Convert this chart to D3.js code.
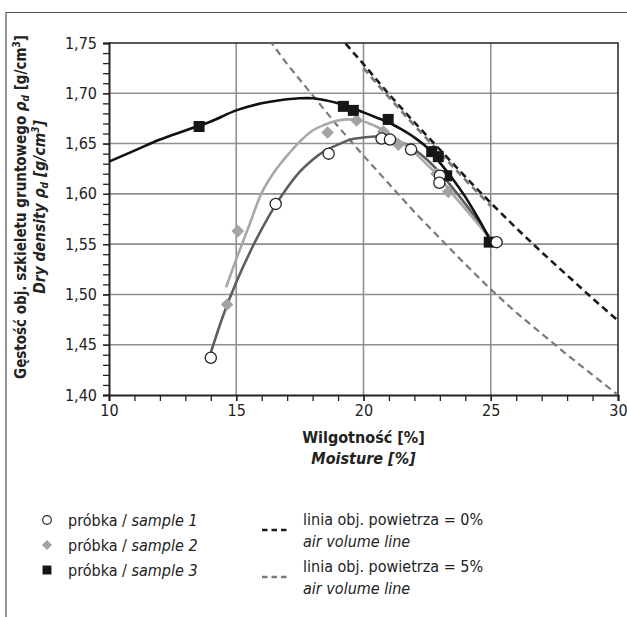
<!DOCTYPE html>
<html><head><meta charset="utf-8">
<script src="https://cdn.jsdelivr.net/npm/d3@7"></script>
<style>
body{margin:0;background:#fff;}
text{font-family:"DejaVu Sans Condensed","Liberation Sans",sans-serif;}
</style></head>
<body><svg id="c" width="627" height="617"></svg>
<script>
// ---- data ----
const xTicks = [10, 15, 20, 25, 30];
const xTickLabels = ["10", "15", "20", "25", "30"];
const yTicks = [1.40, 1.45, 1.50, 1.55, 1.60, 1.65, 1.70, 1.75];
const yTickLabels = ["1,40", "1,45", "1,50", "1,55", "1,60", "1,65", "1,70", "1,75"];

const sample1Points = [[14.0,1.437],[16.55,1.590],[18.63,1.640],[20.71,1.655],[21.04,1.654],[21.87,1.644],[23.0,1.618],[22.98,1.611],[25.23,1.552]];
const sample2Points = [[14.64,1.490],[15.06,1.563],[18.59,1.661],[19.73,1.673],[20.78,1.662],[21.37,1.649],[22.87,1.620],[23.33,1.602],[25.0,1.553]];
const sample3Points = [[13.54,1.667],[19.21,1.687],[19.6,1.683],[20.97,1.674],[22.68,1.642],[22.94,1.637],[23.27,1.618],[24.94,1.552]];

const sample1Curve = [[14.0,1.442],[14.5,1.480],[15,1.512],[15.5,1.540],[16,1.565],[16.5,1.587],[17,1.606],[17.5,1.622],[18,1.634],[18.5,1.643],[19,1.649],[19.5,1.654],[20,1.656],[20.5,1.657],[21,1.655],[21.5,1.651],[22,1.644],[22.5,1.634],[23,1.621],[23.5,1.606],[24,1.590],[24.5,1.573],[25,1.556],[25.25,1.552]];
const sample2Curve = [[14.6,1.507],[15,1.535],[15.5,1.568],[16,1.601],[16.5,1.622],[17,1.638],[17.5,1.652],[18,1.663],[18.5,1.669],[19,1.673],[19.5,1.674],[20,1.672],[20.5,1.667],[21,1.660],[21.5,1.651],[22,1.641],[22.5,1.629],[23,1.616],[23.5,1.600],[24,1.585],[24.5,1.570],[25,1.555]];
const sample3Curve = [[10,1.632],[11,1.643],[12,1.654],[13,1.663],[14,1.672],[15,1.683],[16,1.690],[17,1.694],[17.5,1.695],[18,1.695],[18.5,1.693],[19,1.690],[19.5,1.686],[20,1.681],[20.5,1.676],[21,1.671],[21.5,1.664],[22,1.656],[22.5,1.646],[23,1.631],[23.5,1.615],[24,1.597],[24.5,1.576],[25,1.553]];

const air0Line = [[19.0,1.758],[20,1.729],[21,1.699],[22,1.671],[23,1.644],[24,1.617],[25,1.591],[26,1.566],[27,1.542],[28,1.519],[29,1.496],[30,1.474]];
const air0LineB = [[20,1.725],[21,1.696],[22,1.668],[23,1.641],[24,1.614],[25,1.588]];
const air5Line = [[16.3,1.753],[17,1.729],[18,1.698],[19,1.667],[20,1.638],[21,1.610],[22,1.582],[23,1.556],[24,1.530],[25,1.505],[26,1.482],[27,1.461],[28,1.440],[29,1.420],[30,1.400]];

const legendLeft = [
  {pl:"próbka / ", en:"sample 1", shape:"circle"},
  {pl:"próbka / ", en:"sample 2", shape:"diamond"},
  {pl:"próbka / ", en:"sample 3", shape:"square"}
];
const legendRight = [
  {pl:"linia obj. powietrza = 0%", en:"air volume line", color:"#1a1a1a"},
  {pl:"linia obj. powietrza = 5%", en:"air volume line", color:"#7a7a7a"}
];

// ---- drawing ----
const svg = d3.select("#c");
const L=109, R=618, T=43, B=395;
const x = d3.scaleLinear().domain([10,30]).range([L,R]);
const y = d3.scaleLinear().domain([1.40,1.75]).range([B,T]);

// frame
svg.append("path").attr("d","M6,617 L6,12.5 L627,12.5").attr("fill","none").attr("stroke","#555").attr("stroke-width",1.2);

svg.append("defs").append("clipPath").attr("id","clip").append("rect").attr("x",L).attr("y",T).attr("width",R-L).attr("height",B-T);

// grid
const gridC = "#8f8f8f";
svg.append("g").selectAll("line").data(yTicks.slice(1,-1)).join("line")
  .attr("x1",L).attr("x2",R).attr("y1",d=>y(d)).attr("y2",d=>y(d)).attr("stroke",gridC).attr("stroke-width",1.6);
svg.append("g").selectAll("line").data(xTicks.slice(1,-1)).join("line")
  .attr("y1",T).attr("y2",B).attr("x1",d=>x(d)).attr("x2",d=>x(d)).attr("stroke",gridC).attr("stroke-width",1.6);
svg.append("path").attr("d",`M${L},${T} L${R},${T} L${R},${B}`).attr("fill","none").attr("stroke","#222").attr("stroke-width",1.5);

// axes
const fmtY = d => yTickLabels[yTicks.findIndex(v=>Math.abs(v-d)<1e-9)];
const fmtX = d => xTickLabels[xTicks.indexOf(d)];
const yMinor = d3.range(140,176).map(v=>v/100);
const xMinor = d3.range(10,31);
const gy = svg.append("g").attr("transform",`translate(${L},0)`);
gy.call(d3.axisLeft(y).tickValues(yMinor).tickSize(6).tickFormat(""));
gy.call(g=>g.select(".domain").remove());
const gy2 = svg.append("g").attr("transform",`translate(${L},0)`);
gy2.call(d3.axisLeft(y).tickValues(yTicks).tickSize(6).tickPadding(6).tickFormat(fmtY));
const gx = svg.append("g").attr("transform",`translate(0,${B})`);
gx.call(d3.axisBottom(x).tickValues(xMinor).tickSize(6).tickFormat(""));
gx.call(g=>g.select(".domain").remove());
const gx2 = svg.append("g").attr("transform",`translate(0,${B})`);
gx2.call(d3.axisBottom(x).tickValues(xTicks).tickSize(6).tickPadding(4).tickFormat(fmtX));
[gy,gy2,gx,gx2].forEach(g=>{
  g.selectAll("line").attr("stroke","#222").attr("stroke-width",1.3);
  g.selectAll(".domain").attr("stroke","#222").attr("stroke-width",2);
  g.selectAll("text").attr("font-size",16).attr("fill","#222").attr("font-family","DejaVu Sans Condensed, sans-serif");
});

// dashed lines
const line = d3.line().x(d=>x(d[0])).y(d=>y(d[1]));
const plot = svg.append("g").attr("clip-path","url(#clip)");
plot.append("path").attr("d",line(air5Line)).attr("fill","none").attr("stroke","#7a7a7a").attr("stroke-width",2.2).attr("stroke-dasharray","7,4.5");
plot.append("path").attr("d",line(air0Line)).attr("fill","none").attr("stroke","#1a1a1a").attr("stroke-width",2.6).attr("stroke-dasharray","7,4.5");
plot.append("path").attr("d",line(air0LineB)).attr("fill","none").attr("stroke","#7a7a7a").attr("stroke-width",2.8).attr("stroke-dasharray","7,4.5");

// curves
const cline = d3.line().x(d=>x(d[0])).y(d=>y(d[1])).curve(d3.curveCatmullRom);
plot.append("path").attr("d",cline(sample1Curve)).attr("fill","none").attr("stroke","#5e5e5e").attr("stroke-width",2.6);
plot.append("path").attr("d",cline(sample2Curve)).attr("fill","none").attr("stroke","#a8a8a8").attr("stroke-width",2.6);
plot.append("path").attr("d",cline(sample3Curve)).attr("fill","none").attr("stroke","#111").attr("stroke-width",2.6);

// markers
const sq = d3.symbol().type(d3.symbolSquare);
svg.append("g").selectAll("path").data(sample2Points).join("path")
  .attr("d",sq.size(80)()).attr("transform",d=>`translate(${x(d[0])},${y(d[1])}) rotate(45)`).attr("fill","#a3a3a3");
svg.append("g").selectAll("path").data(sample3Points).join("path")
  .attr("d",sq.size(121)()).attr("transform",d=>`translate(${x(d[0])},${y(d[1])})`).attr("fill","#161616");
svg.append("g").selectAll("circle").data(sample1Points).join("circle")
  .attr("cx",d=>x(d[0])).attr("cy",d=>y(d[1])).attr("r",5.6).attr("fill","#fff").attr("stroke","#222").attr("stroke-width",1.3);

// axis titles
const cy = 207;
svg.append("text").attr("transform",`translate(26,${cy}) rotate(-90)`).attr("text-anchor","middle")
  .attr("font-size",15).attr("font-weight","bold").attr("fill","#222")
  .call(t=>{t.append("tspan").text("Gęstość obj. szkieletu gruntowego ");
    t.append("tspan").attr("font-style","italic").text("ρ");
    t.append("tspan").attr("font-style","italic").attr("font-size",10).attr("dy",3).text("d");
    t.append("tspan").attr("dy",-3).text(" [g/cm");
    t.append("tspan").attr("font-size",10).attr("dy",-6).text("3");
    t.append("tspan").attr("dy",6).text("]");});
svg.append("text").attr("transform",`translate(45,${cy}) rotate(-90)`).attr("text-anchor","middle")
  .attr("font-size",15.5).attr("font-weight","bold").attr("font-style","italic").attr("fill","#222")
  .call(t=>{t.append("tspan").text("Dry density ρ");
    t.append("tspan").attr("font-size",10).attr("dy",3).text("d");
    t.append("tspan").attr("dy",-3).text(" [g/cm");
    t.append("tspan").attr("font-size",10).attr("dy",-6).text("3");
    t.append("tspan").attr("dy",6).text("]");});

svg.append("text").attr("x",(L+R)/2).attr("y",443).attr("text-anchor","middle").attr("font-size",16).attr("font-weight","bold").attr("fill","#222").text("Wilgotność [%]");
svg.append("text").attr("x",(L+R)/2).attr("y",464).attr("text-anchor","middle").attr("font-size",16).attr("font-weight","bold").attr("font-style","italic").attr("fill","#222").text("Moisture [%]");

// legend left
const lg = svg.append("g");
legendLeft.forEach((d,i)=>{
  const yy = 520 + i*25;
  if(d.shape==="circle") lg.append("circle").attr("cx",47).attr("cy",yy).attr("r",4.3).attr("fill","#fff").attr("stroke","#222").attr("stroke-width",1.2);
  else if(d.shape==="diamond") lg.append("path").attr("d",sq.size(50)()).attr("transform",`translate(47,${yy}) rotate(45)`).attr("fill","#a3a3a3");
  else lg.append("path").attr("d",sq.size(80)()).attr("transform",`translate(47,${yy})`).attr("fill","#161616");
  const t = lg.append("text").attr("x",68).attr("y",yy+5.5).attr("font-size",16).attr("fill","#222");
  t.append("tspan").text(d.pl);
  t.append("tspan").attr("font-style","italic").text(d.en);
});
legendRight.forEach((d,i)=>{
  const y0 = 519 + i*47;
  lg.append("line").attr("x1",262).attr("x2",288).attr("y1",y0+11).attr("y2",y0+11).attr("stroke",d.color).attr("stroke-width",2.5).attr("stroke-dasharray","5.5,4");
  lg.append("text").attr("x",303).attr("y",y0+5.5).attr("font-size",16).attr("fill","#222").text(d.pl);
  lg.append("text").attr("x",303).attr("y",y0+28).attr("font-size",16).attr("font-style","italic").attr("fill","#222").text(d.en);
});
</script></body></html>
